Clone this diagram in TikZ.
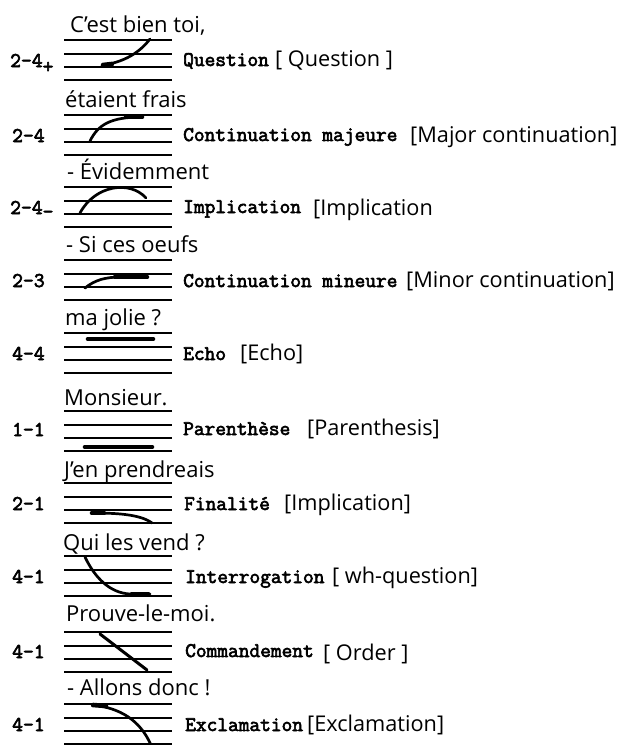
\documentclass[tikz,border=0pt]{standalone}
\usepackage{fontspec}
\setmainfont{Open Sans}
\newfontfamily\twfont[FakeBold=3]{Latin Modern Mono}
\begin{document}
\begin{tikzpicture}[x=1pt,y=-1pt,
  staffline/.style={line width=1.7pt},
  tone/.style={line width=2.7pt,line cap=round},
  blob/.style={line width=4.6pt,line cap=round},
  phrase/.style={anchor=base west,inner sep=0pt,font=\fontsize{22}{24}\selectfont},
  gloss/.style={anchor=base west,inner sep=0pt,font=\fontsize{21.7}{24}\selectfont},
  fnlabel/.style={anchor=base west,inner sep=0pt,font=\fontsize{20.8}{22}\twfont},
  levellabel/.style={anchor=base west,inner sep=0pt,font=\fontsize{21}{22}\twfont}]
\useasboundingbox (0,0) rectangle (621,745);
\fill[white] (0,0) rectangle (621,745);

% staves
\foreach \T in {40,115,187,260,333,411,483,556,632,704}{
  \foreach \o in {0,14,27,40}{
    \draw[staffline] (64,{\T+\o}) -- (172,{\T+\o});
  }
}

% sentences
\node[phrase] (p1) at (70,32) {C'est bien toi,};
\node[phrase] (p2) at (65,107) {étaient frais};
\node[phrase] (p3) at (67,179) {- Évidemment};
\node[phrase] (p4) at (66,252) {- Si ces oeufs};
\node[phrase] (p5) at (65,325) {ma jolie ?};
\node[phrase] (p6) at (64,405) {Monsieur.};
\node[phrase] (p7) at (64,477) {J'en prendreais};
\node[phrase] (p8) at (63,550) {Qui les vend ?};
\node[phrase] (p9) at (66,621) {Prouve-le-moi.};
\node[phrase] (p10) at (67,695) {- Allons donc !};

% level labels
\node[levellabel] (l1) at (10,67) {2-4\raisebox{-6pt}{+}};
\node[levellabel] (l2) at (12,142) {2-4};
\node[levellabel] (l3) at (10,214) {2-4\raisebox{-4pt}{-}};
\node[levellabel] (l4) at (12,287) {2-3};
\node[levellabel] (l5) at (12,360) {4-4};
\node[levellabel] (l6) at (12,436) {1-1};
\node[levellabel] (l7) at (12,510) {2-1};
\node[levellabel] (l8) at (12,583) {4-1};
\node[levellabel] (l9) at (12,658) {4-1};
\node[levellabel] (l10) at (12,731) {4-1};

% function labels
\node[fnlabel] (f1) at (183,66) {Question};
\node[fnlabel] (f2) at (183,141) {Continuation majeure};
\node[fnlabel] (f3) at (183,213) {Implication};
\node[fnlabel] (f4) at (183,287) {Continuation mineure};
\node[fnlabel] (f5) at (183,360) {Echo};
\node[fnlabel] (f6) at (183,435) {Parenthèse};
\node[fnlabel] (f7) at (184,510) {Finalité};
\node[fnlabel] (f8) at (185,583) {Interrogation};
\node[fnlabel] (f9) at (185,657) {Commandement};
\node[fnlabel] (f10) at (185,731) {Exclamation};

% glosses
\node[gloss] (g1) at (275,66) {[ Question ]};
\node[gloss] (g2) at (410,142) {[Major continuation]};
\node[gloss] (g3) at (313,215) {[Implication};
\node[gloss] (g4) at (406,287) {[Minor continuation]};
\node[gloss] (g5) at (240,360) {[Echo]};
\node[gloss] (g6) at (307,435) {[Parenthesis]};
\node[gloss] (g7) at (284,510) {[Implication]};
\node[gloss] (g8) at (332,583) {[ wh-question]};
\node[gloss] (g9) at (323,660) {[ Order ]};
\node[gloss] (g10) at (307,731) {[Exclamation]};

% intonation contours
% 1 question
\draw[tone] (103,65) .. controls (125,62) and (140,52) .. (150,39);
\draw[blob] (103,65) -- (112,64);
% 2 major continuation
\draw[tone] (90,141) .. controls (98,125) and (110,117) .. (142,117);
\draw[blob] (126,117) -- (142,117);
% 3 implication
\draw[tone] (80,213) .. controls (95,185) and (130,180) .. (146,198);
% 4 minor continuation
\draw[tone] (85,288) .. controls (95,280) and (105,277) .. (122,277) -- (147,277);
\draw[blob] (115,277) -- (147,277);
% 5 echo
\draw[blob] (88,339) -- (153,339);
% 6 parenthesis
\draw[blob] (85,447) -- (152,447);
% 7 finality
\draw[tone] (92,513) .. controls (115,513) and (140,514) .. (152,523);
\draw[blob] (92,513) -- (104,513);
% 8 interrogation
\draw[tone] (85,557) .. controls (95,578) and (110,593) .. (130,594) -- (150,594);
\draw[blob] (132,594) -- (148,594);
% 9 order
\draw[tone,line width=3pt] (100,634) -- (147,670);
% 10 exclamation
\draw[tone] (93,705) .. controls (120,708) and (140,720) .. (151,745);
\draw[blob] (93,705) -- (106,706);
\end{tikzpicture}
\end{document}
